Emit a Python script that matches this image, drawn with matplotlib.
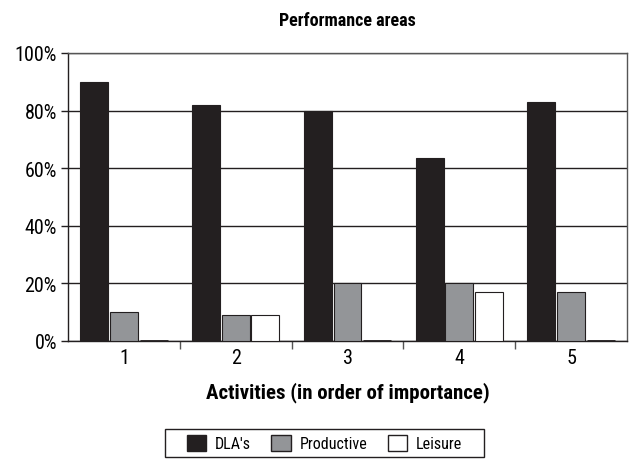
import numpy as np
import matplotlib.pyplot as plt
from matplotlib import font_manager
from matplotlib.patches import Rectangle
from matplotlib.ticker import FixedLocator, NullFormatter

names = {f.name for f in font_manager.fontManager.ttflist}
narrow = [n for n in ['Liberation Sans Narrow', 'Roboto Condensed', 'Open Sans Condensed'] if n in names]
plt.rcParams['font.family'] = narrow + ['DejaVu Sans']
plt.rcParams['font.stretch'] = 'condensed'

activities = ['1', '2', '3', '4', '5']
dlas = [90, 82, 80, 63.5, 83]
productive = [10, 9, 20, 20, 17]
leisure = [0, 9, 0, 17, 0]

fig = plt.figure(figsize=(6.31, 4.64), dpi=100)
ax = fig.add_axes([68 / 631, 1 - 342 / 464, 559 / 631, 288 / 464])

x = np.arange(1, len(activities) + 1)
w = 0.25
step = 0.265
edge = '#231f20'
series = [(dlas, '#231f20', "DLA's", -step), (productive, '#939598', 'Productive', 0),
          (leisure, 'white', 'Leisure', step)]
for vals, col, lab, off in series:
    ax.bar(x + off, vals, w, color=col, edgecolor=edge, linewidth=0.8, label=lab, zorder=3)
    # zero values show as a flat dark stroke on the baseline
    for xi, v in zip(x + off, vals):
        if v == 0:
            ax.plot([xi - w / 2, xi + w / 2], [v, v], color=edge, linewidth=2, zorder=4,
                    solid_capstyle='butt')

ax.set_xlim(0.5, 5.5)
ax.set_ylim(0, 100)
ax.set_yticks([0, 20, 40, 60, 80, 100])
ax.set_yticklabels(['0%', '20%', '40%', '60%', '80%', '100%'], fontsize=14.5)
ax.yaxis.grid(True, color='#231f20', linewidth=1.0, zorder=0)

ax.set_xticks(x)
ax.set_xticklabels(activities, fontsize=14.5)
ax.tick_params(axis='x', which='major', length=0, pad=5)
ax.xaxis.set_minor_locator(FixedLocator([1.5, 2.5, 3.5, 4.5]))
ax.xaxis.set_minor_formatter(NullFormatter())
ax.tick_params(axis='x', which='minor', length=6, width=1, color='#555555', direction='out')
ax.tick_params(axis='y', length=5, width=1, color='#231f20', pad=3)

for side in ['top', 'right']:
    ax.spines[side].set_color('#555555')
for side in ['left', 'bottom']:
    ax.spines[side].set_color('#231f20')
for s in ax.spines.values():
    s.set_linewidth(1.0)

ax.set_title('Performance areas', fontsize=13, fontweight='bold', pad=20)
ax.set_xlabel('Activities (in order of importance)', fontsize=15, fontweight='bold', labelpad=10)

leg = fig.legend(loc='center', bbox_to_anchor=(324.5 / 631, 1 - 444 / 464), ncol=3,
                 frameon=False, fontsize=11.5, borderpad=0,
                 handlelength=1.2, handleheight=1.2, columnspacing=1.3, handletextpad=0.56)
for h in leg.legend_handles:
    h.set_linewidth(1.0)
fig.patches.append(Rectangle((165 / 631, 1 - 458 / 464), 319 / 631, 28 / 464,
                             transform=fig.transFigure, fill=False, edgecolor=edge, linewidth=1.0))

fig.savefig('out.png', dpi=100)
